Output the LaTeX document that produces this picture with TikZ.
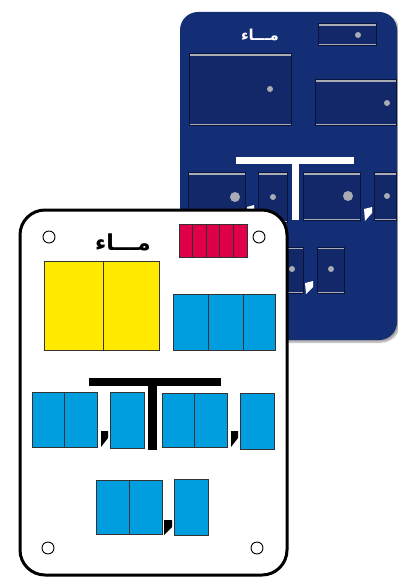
\documentclass[tikz,border=0pt]{standalone}
\usepackage{fontspec}
\newfontfamily\arabicfont[Script=Arabic]{DejaVu Sans}
\TeXXeTstate=1
\usetikzlibrary{shadows.blur}
\definecolor{boardblue}{RGB}{20,46,118}
\definecolor{padblue}{RGB}{18,40,104}
\definecolor{padedge}{RGB}{8,20,60}
\definecolor{padgray}{RGB}{170,172,180}
\definecolor{cellred}{RGB}{224,0,74}
\definecolor{cellyellow}{RGB}{255,234,0}
\definecolor{cellblue}{RGB}{0,158,223}
\begin{document}
\begin{tikzpicture}[x=1pt,y=-1pt,
    pad/.style={fill=padblue,draw=padedge,line width=1pt,
      path picture={
        \draw[padgray,line width=3.5pt] (path picture bounding box.north west)--(path picture bounding box.north east);
        \draw[padgray,line width=3pt] (path picture bounding box.south west)--(path picture bounding box.south east);}},
    paddot/.style={fill=padgray},
    cell/.style={draw=black!80,line width=0.8pt},
    hole/.style={draw=black,fill=white,line width=0.9pt}]
  \useasboundingbox (0,0) rectangle (398,577);
  % back board
  \fill[boardblue,rounded corners=18pt,blur shadow={shadow xshift=2pt,shadow yshift=-2pt,shadow blur steps=6}] (180,12) rectangle (397,340);
  \node[text=white,inner sep=0pt] at (260,35) {\fontsize{15}{15}\selectfont\arabicfont\bfseries\beginR مـــاء\endR};
  \draw[pad] (318,24) rectangle (376,46);
  \fill[paddot] (358,35) circle (3);
  \draw[pad] (189,54) rectangle (291,126);
  \fill[paddot] (270,89) circle (3);
  \draw[pad] (315,80) rectangle (396,126);
  \fill[paddot] (387,103) circle (3);
  \fill[white] (236,157) rectangle (354,164);
  \fill[white] (292,164) rectangle (299,220);
  \draw[pad] (188,173) rectangle (245,222);
  \fill[paddot] (235,197) circle (5);
  \fill[white] (247,207)--(254,205)--(254,213)--(248,220)--cycle;
  \draw[pad] (258,173) rectangle (287,222);
  \fill[paddot] (273,197) circle (3);
  \draw[pad] (303,173) rectangle (360,220);
  \fill[paddot] (348,196) circle (5);
  \fill[white] (364,209)--(372,207)--(372,213)--(365,221)--cycle;
  \draw[pad] (374,173) rectangle (396,220);
  \fill[paddot] (387,196) circle (3);
  \draw[pad] (262,247) rectangle (303,293);
  \fill[paddot] (292,269) circle (3);
  \fill[white] (305,283)--(313,281)--(313,287)--(306,294)--cycle;
  \draw[pad] (317,247) rectangle (344,293);
  \fill[paddot] (331,269) circle (3);
  % front card
  \draw[line width=3pt,fill=white,rounded corners=25pt] (20,210) rectangle (287,575);
  \draw[hole] (49,237) circle (6);
  \draw[hole] (259,237) circle (6);
  \draw[hole] (48,548) circle (6);
  \draw[hole] (257,548) circle (6);
  \node[inner sep=0pt] (title) at (123,242) {\fontsize{22}{22}\selectfont\arabicfont\bfseries\beginR مـــاء\endR};
  % red
  \draw[cell,fill=cellred] (179,224) rectangle (247,257);
  \foreach \x in {192.6,206.2,219.8,233.4} {\draw[cell] (\x,224)--(\x,257);}
  % yellow
  \draw[cell,fill=cellyellow] (44,261) rectangle (159,350);
  \draw[cell] (103,261)--(103,350);
  % blue top
  \draw[cell,fill=cellblue] (173,294) rectangle (275,350);
  \foreach \x in {208,243} {\draw[cell] (\x,294)--(\x,350);}
  % T bar
  \fill (89,378) rectangle (221,386);
  \fill (148,386) rectangle (157,450);
  % row 1
  \draw[cell,fill=cellblue] (32,392) rectangle (97,447);
  \draw[cell] (64,392)--(64,447);
  \fill (101,431)--(108,431)--(108,438)--(101,447)--cycle;
  \draw[cell,fill=cellblue] (110,392) rectangle (144,448);
  \draw[cell,fill=cellblue] (162,393) rectangle (227,447);
  \draw[cell] (194,393)--(194,447);
  \fill (231,431)--(238,431)--(238,438)--(231,447)--cycle;
  \draw[cell,fill=cellblue] (240,393) rectangle (274,449);
  % row 2
  \draw[cell,fill=cellblue] (96,480) rectangle (162,534);
  \draw[cell] (129,480)--(129,534);
  \fill (164,520)--(172,520)--(172,527)--(164,535)--cycle;
  \draw[cell,fill=cellblue] (174,479) rectangle (208,535);
\end{tikzpicture}
\end{document}
